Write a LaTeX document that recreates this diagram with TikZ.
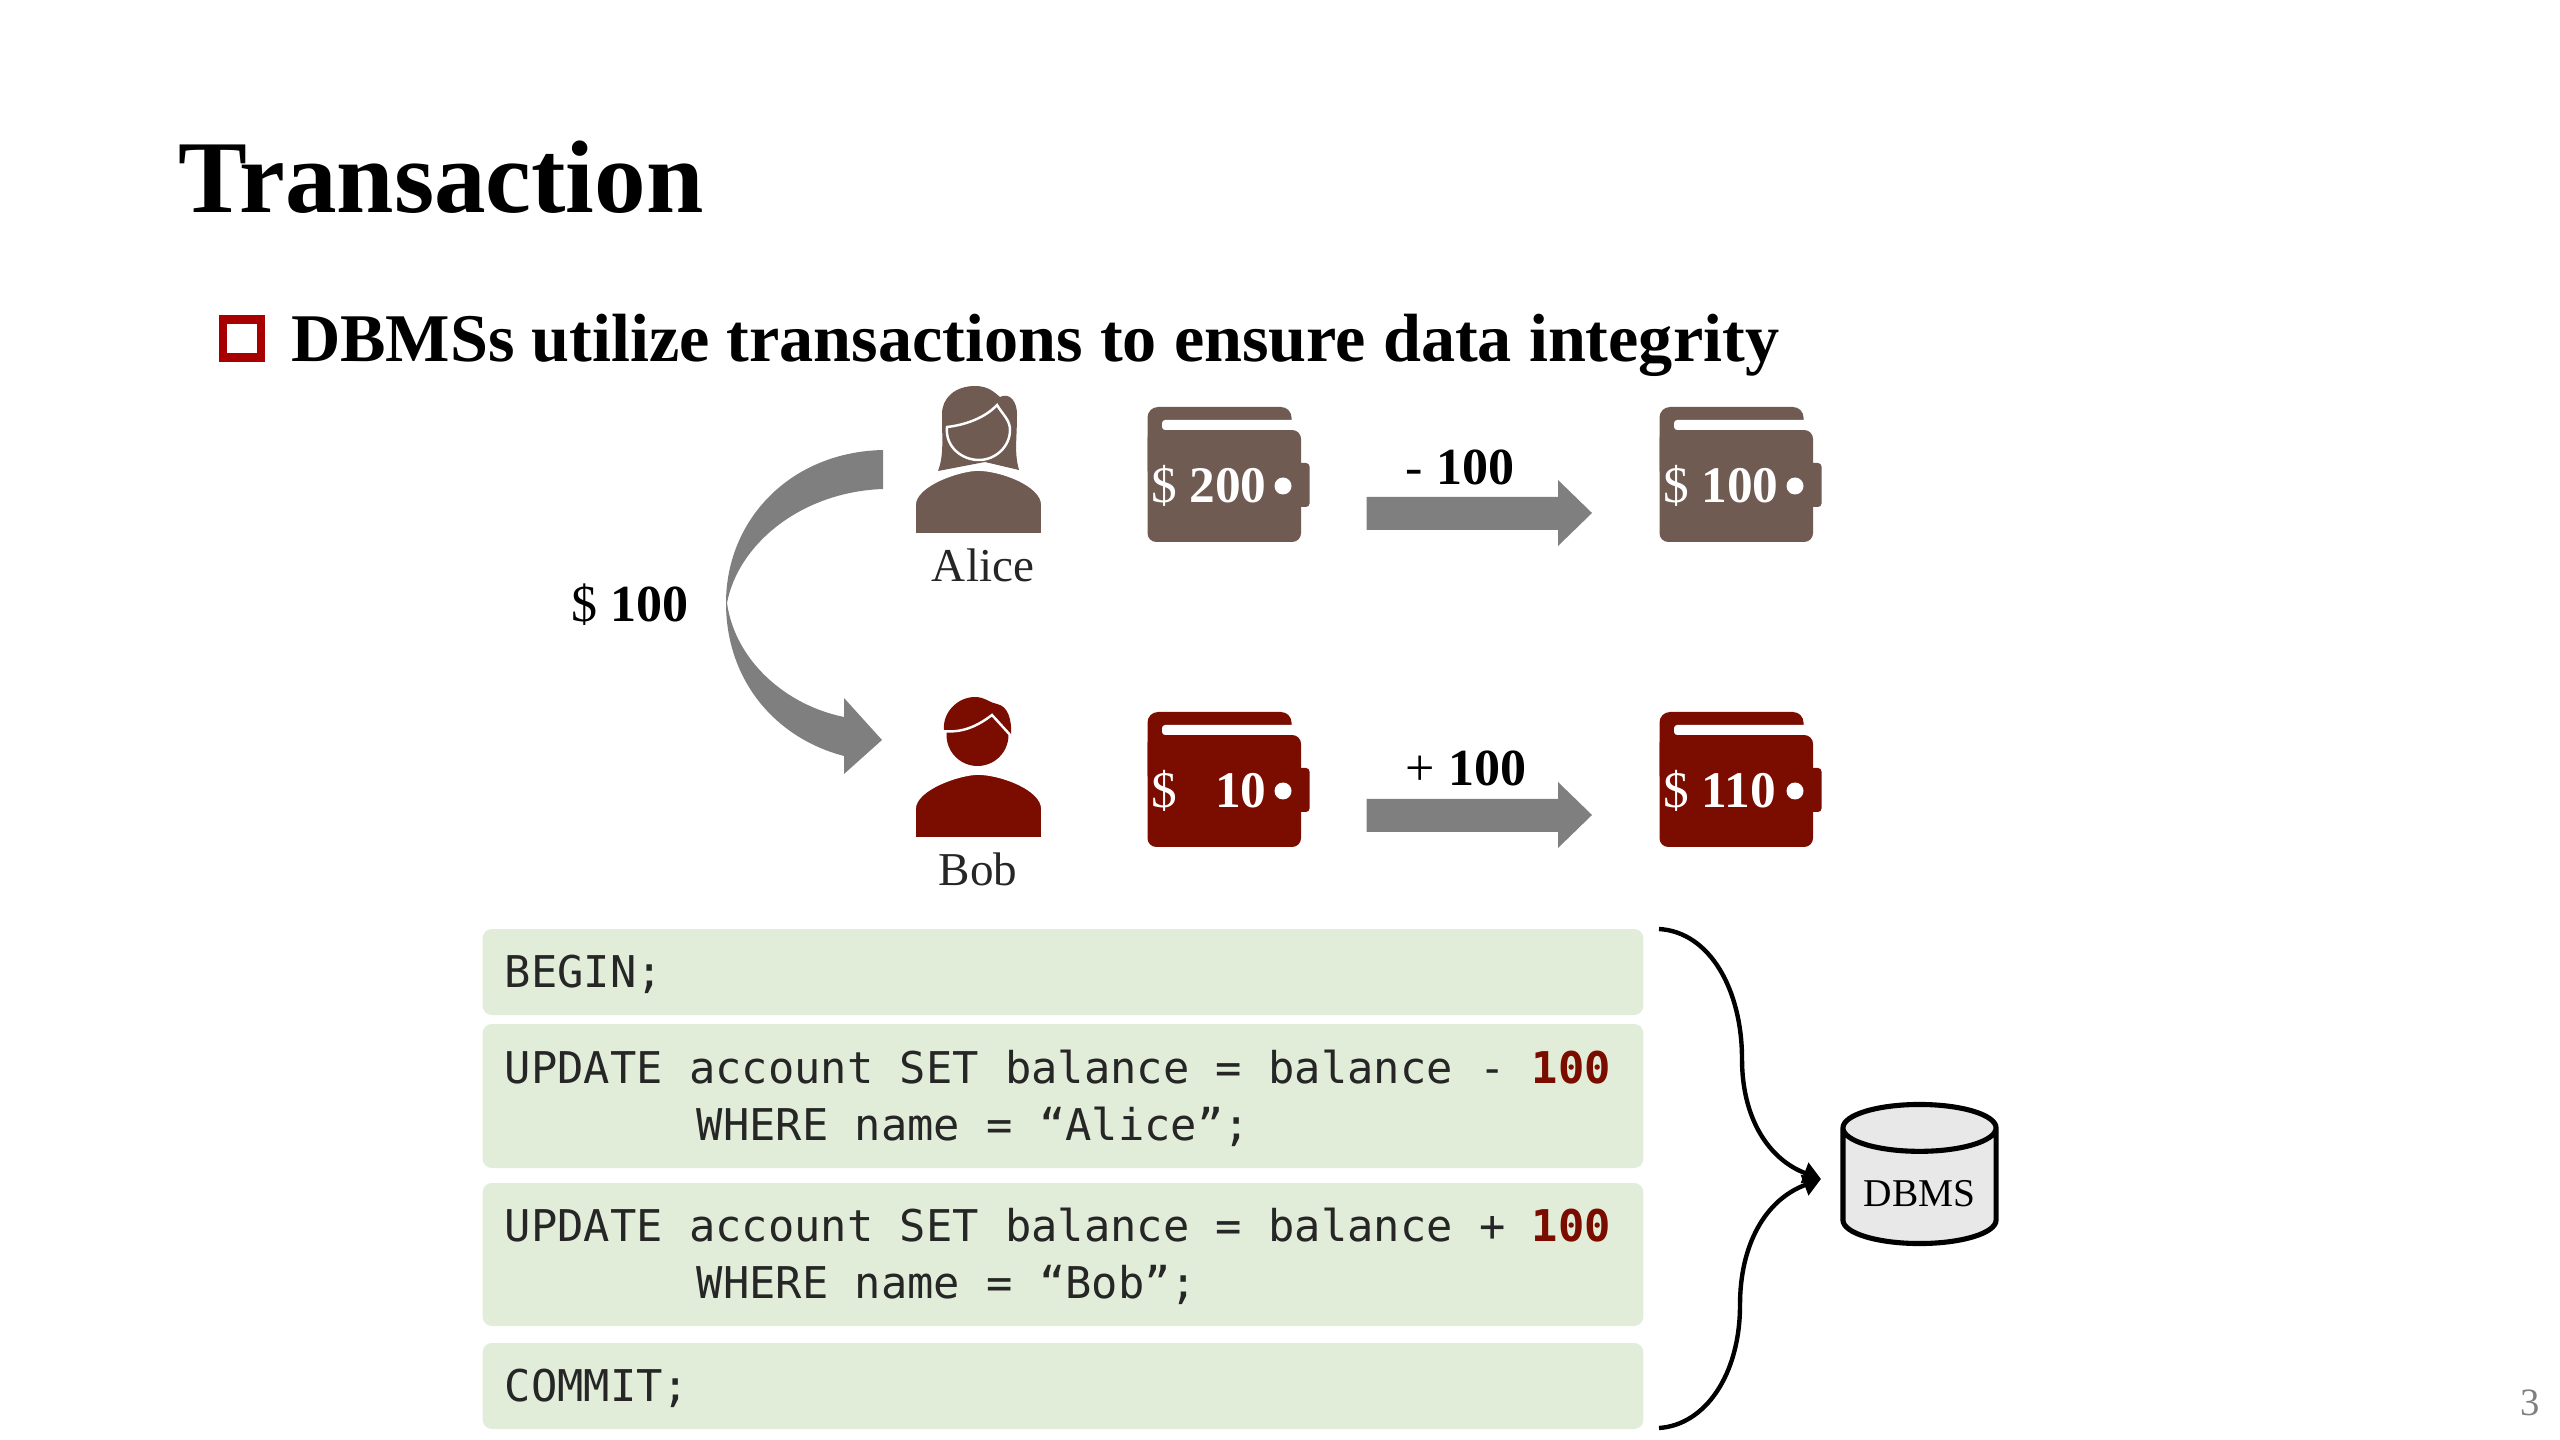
\documentclass[tikz,border=0pt]{standalone}
\usepackage{fontspec}
\setmainfont{Liberation Serif}
\setmonofont{DejaVu Sans Mono}
\usetikzlibrary{arrows.meta,shapes.geometric}
\definecolor{umber}{HTML}{6F5B51}
\definecolor{maroon}{HTML}{7A0C00}
\definecolor{boxred}{HTML}{A80000}
\definecolor{codebg}{HTML}{E2EDD9}
\definecolor{dbgray}{HTML}{E8E8E8}
\definecolor{flowgray}{HTML}{7F7F7F}
\tikzset{
  every node/.style={inner sep=0pt,outer sep=0pt},
  codebox/.style={fill=codebg,rounded corners=2.6pt,minimum height=#1*0.01cm,minimum width=11.6cm,
    text width=11.16cm,align=flush left,text=black!85,font=\fontsize{12.44}{16.2}\selectfont\ttfamily,
    execute at begin node=\rule{0pt}{10.6pt}},
  who/.style={font=\fontsize{13.4}{16}\selectfont,text=black!85},
  amount/.style={font=\fontsize{14.8}{16}\selectfont},
  purse/.style={anchor=west,text=white,font=\fontsize{14.6}{16}\selectfont},
  tip/.style={-{Triangle[length=5pt,width=6pt]},line width=1.25pt},
}
\begin{document}
\begin{tikzpicture}[x=0.01cm,y=-0.01cm]
\useasboundingbox (0,0) rectangle (2560,1440);
% heading
\node[anchor=base west,font=\fontsize{29.35}{32}\selectfont\bfseries] (title) at (178,213) {Transaction};
\node[draw=boxred,line width=2.3pt,minimum size=0.38cm] (bullet) at (242,338.5) {};
\node[anchor=base west,font=\fontsize{19.4}{22}\selectfont\bfseries] (headline) at (291,361.5) {DBMSs utilize transactions to ensure data integrity};
% people
\fill[umber] (938,471) .. controls (944,455) and (942,440) .. (942,414) .. controls (942,398) and (955,386) .. (975,386)
  .. controls (988,386) and (994,392) .. (1000,397) .. controls (1010,392) and (1017,402) .. (1017,414)
  .. controls (1017,440) and (1014,452) .. (1019,470) -- (985,462) -- cycle;
\draw[white,line width=0.7pt] (947,427) .. controls (965,425) and (985,418) .. (997,405) .. controls (1003,415) and (1010,420) .. (1010,430)
  .. controls (1010,447) and (995,460) .. (979,460) .. controls (962,460) and (945,447) .. (947,427) -- cycle;
\fill[maroon] (977.5,735) circle (31);
\fill[maroon] (944,731) .. controls (942,712) and (958,697) .. (975,697) .. controls (985,697) and (990,703) .. (997,704)
  .. controls (1008,706) and (1012,720) .. (1011,735) -- cycle;
\draw[white,line width=0.7pt] (942,731) .. controls (960,733) and (975,728) .. (992,715) -- (1012,737);
\foreach \dy/\col in {0/umber,304/maroon}
  \filldraw[fill=\col,draw=white,line width=0.5pt,yshift=-\dy*0.01cm] (915,534) -- (915,505) .. controls (915,485) and (960,470) .. (978,470)
    .. controls (1000,470) and (1042,485) .. (1042,505) -- (1042,534) -- cycle;
\node[who] (alice) at (983,565) {Alice};
\node[who] (bob) at (978,869) {Bob};
% wallets
\foreach \dx/\dy/\col/\lab/\nm in {0/0/umber/{\$ \textbf{200}}/walleta,512/0/umber/{\$ \textbf{100}}/walletb,
    0/305/maroon/{\$\ \ \ \textbf{10}}/walletc,512/305/maroon/{\$ \textbf{110}}/walletd} {
  \begin{scope}[xshift=\dx*0.01cm,yshift=-\dy*0.01cm]
    \fill[\col,rounded corners=3pt] (1147.5,407) rectangle (1291.5,480);
    \fill[\col,rounded corners=2.5pt] (1147.5,430) rectangle (1301,542);
    \fill[\col,rounded corners=1pt] (1290,463) rectangle (1309.5,507);
    \fill[white,rounded corners=0.9pt] (1162,420) rectangle (1300,430);
    \fill[\col] (1170,430) rectangle (1290,436);
    \fill[white] (1283,486) circle (8.5);
    \node[purse] (\nm) at (1151,486) {\lab};
  \end{scope}
}
% flow arrows
\foreach \dy in {0,302}
  \fill[flowgray,yshift=-\dy*0.01cm] (1366.5,497) -- (1558,497) -- (1558,480) -- (1592,513) -- (1558,546) -- (1558,530) -- (1366.5,530) -- cycle;
\fill[flowgray] (883,450) .. controls (790,452) and (726,520) .. (726,603) .. controls (726,680) and (775,738) .. (844,756)
  -- (844,774) -- (882,740) -- (844,698) -- (844,717) .. controls (785,705) and (735,660) .. (727,603)
  .. controls (738,545) and (800,492) .. (883,489) -- cycle;
\node[amount] (minus) at (1460,467) {- \textbf{100}};
\node[amount] (plus) at (1466,768) {+ \textbf{100}};
\node[amount] (moved) at (630,605) {\$ \textbf{100}};
% sql
\node[codebox=86] (beginbox) at (1063,972) {BEGIN;};
\node[codebox=144] (updatea) at (1063,1096) {UPDATE account SET balance = balance - \textcolor{maroon}{\textbf{100}}\\\hspace*{54.6pt}WHERE name = “Alice”;};
\node[codebox=143] (updateb) at (1063,1254.5) {UPDATE account SET balance = balance + \textcolor{maroon}{\textbf{100}}\\\hspace*{54.6pt}WHERE name = “Bob”;};
\node[codebox=86] (commitbox) at (1063,1386) {COMMIT;};
% dbms
\node[cylinder,shape border rotate=90,draw,line width=1.45pt,cylinder uses custom fill,cylinder body fill=dbgray,cylinder end fill=dbgray,
  aspect=0.42,minimum width=1.53cm,minimum height=1.39cm,font=\fontsize{11.2}{14}\selectfont] (dbms) at (1919.5,1187) {\rule{0pt}{11.2pt}DBMS};
\coordinate (bracetop) at (1659,929);
\coordinate (bracelow) at (1659,1428);
\coordinate (dbtip) at (1821,1179);
\draw[tip] (bracetop) .. controls (1710,932) and (1742,990) .. (1742,1059) .. controls (1742,1120) and (1770,1160) .. (dbtip);
\draw[tip] (bracelow) .. controls (1705,1425) and (1740,1375) .. (1740,1305) .. controls (1740,1245) and (1765,1200) .. (dbtip);
\node[font=\fontsize{11}{13}\selectfont,text=black!50] (pageno) at (2530,1403) {3};
\end{tikzpicture}
\end{document}
